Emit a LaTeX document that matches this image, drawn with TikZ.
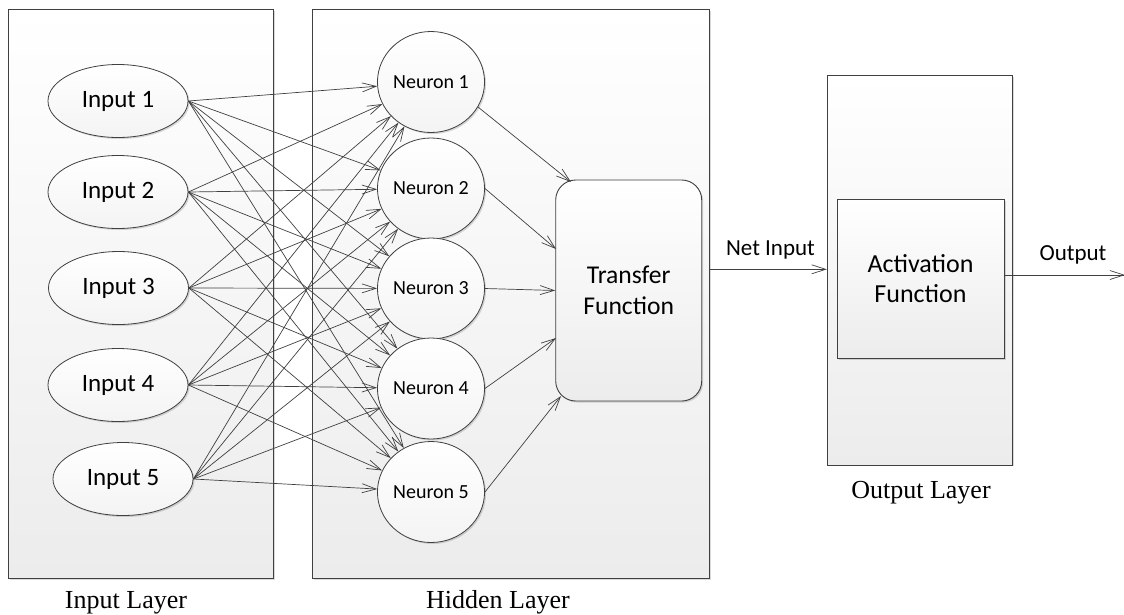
\documentclass[tikz,border=0pt]{standalone}
\usepackage{fontspec}
\setmainfont{Carlito}
\newfontfamily\captionfont{Liberation Serif}
\usetikzlibrary{arrows.meta,shapes.geometric,shadows}

\definecolor{ink}{HTML}{404040}
\definecolor{fade}{HTML}{ECECEC}

\begin{document}
\begin{tikzpicture}[x=1pt,y=-1pt,
  softshadow/.style={drop shadow={shadow xshift=1.5pt,shadow yshift=-1.5pt,opacity=.25,fill=black!60}},
  panel/.style={draw=ink,line width=0.9pt,top color=white,bottom color=fade,
    softshadow,inner sep=0pt,anchor=center},
  inputnode/.style={ellipse,draw=ink,line width=0.8pt,top color=white,bottom color=fade!60,
    softshadow,minimum width=140,minimum height=73,inner sep=0pt,
    font=\fontsize{25}{30}\selectfont},
  neuron/.style={ellipse,draw=ink,line width=0.8pt,top color=white,bottom color=fade!60,
    softshadow,minimum width=106,minimum height=101,inner sep=0pt,
    font=\fontsize{20}{24}\selectfont},
  funcbox/.style={draw=ink,line width=0.9pt,top color=white,bottom color=fade,
    softshadow,inner sep=0pt,align=center},
  conn/.style={draw=ink,line width=0.7pt,-{Straight Barb[length=14pt,width=9pt,line width=0.7pt]}},
  flowlabel/.style={inner sep=0pt,anchor=base,font=\fontsize{23}{27}\selectfont},
  layerlabel/.style={inner sep=0pt,anchor=base,font=\captionfont\fontsize{26}{31}\selectfont}
]
\useasboundingbox (0,0) rectangle (1124,614);

% layer panels
\node[panel,minimum width=265,minimum height=569] (inlayer) at (140.5,293.5) {};
\node[panel,minimum width=397,minimum height=569] (hidlayer) at (510.5,293.5) {};
\node[panel,minimum width=185.4,minimum height=389.3] (outlayer) at (920,270.3) {};

% inputs
\node[inputnode] (in1) at (118,101) {Input 1};
\node[inputnode] (in2) at (118,192) {Input 2};
\node[inputnode] (in3) at (118.5,288) {Input 3};
\node[inputnode] (in4) at (118,385) {Input 4};
\node[inputnode] (in5) at (123,479) {Input 5};

% hidden neurons
\node[neuron] (n1) at (431,82) {Neuron 1};
\node[neuron] (n2) at (431,188.5) {Neuron 2};
\node[neuron] (n3) at (431,288.5) {Neuron 3};
\node[neuron] (n4) at (431,388.5) {Neuron 4};
\node[neuron] (n5) at (431,492) {Neuron 5};

% transfer and activation blocks
\node[funcbox,rounded corners=20pt,minimum width=146,minimum height=221,
  font=\fontsize{25.6}{30.7}\selectfont] (tf) at (628.7,290.5) {Transfer\\Function};
\node[funcbox,minimum width=167,minimum height=159,
  font=\fontsize{26}{30.7}\selectfont] (af) at (920.5,278.5) {Activation\\Function};

% fully connected input -> hidden
\foreach \i in {1,...,5}
  \foreach \j in {1,...,5}
    \draw[conn] (in\i.east) -- (n\j);

% hidden -> transfer function
\coordinate (t1) at (571,182);
\coordinate (t2) at (556,249);
\coordinate (t4) at (556,338);
\coordinate (t5) at (561,396);
\draw[conn] (n1.-28) -- (t1);
\draw[conn] (n2.east) -- (t2);
\draw[conn] (n3.east) -- (tf.west);
\draw[conn] (n4.east) -- (t4);
\draw[conn] (n5.east) -- (t5);

% net input and output
\coordinate (netstart) at (709,269.3);
\draw[conn] (netstart) -- (outlayer.west |- netstart);
\coordinate (outend) at (1125,275);
\draw[conn] (af.east |- outend) -- (outend);

\node[flowlabel] (lblnet) at (770.5,255) {Net Input};
\node[flowlabel] (lblout) at (1073,260) {Output};

% layer captions
\node[layerlabel] (capin) at (126,608) {Input Layer};
\node[layerlabel] (caphid) at (498,608) {Hidden Layer};
\node[layerlabel] (capout) at (921,498) {Output Layer};
\end{tikzpicture}
\end{document}
